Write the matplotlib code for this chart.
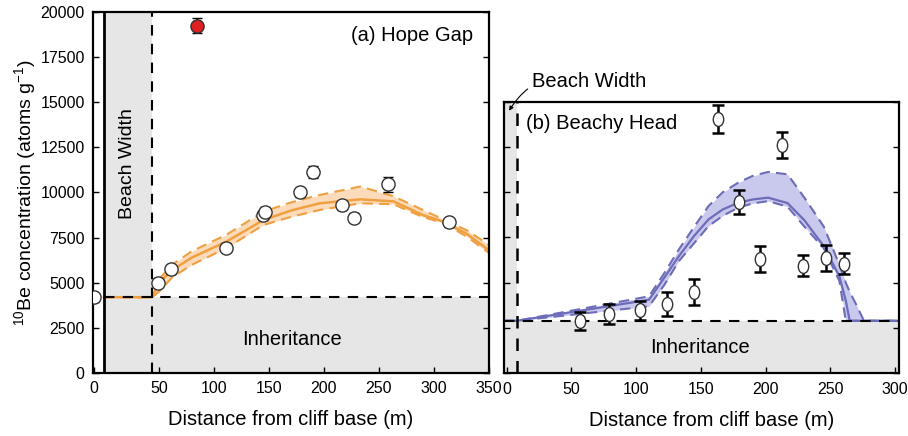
import matplotlib
matplotlib.use('Agg')
import matplotlib.pyplot as plt
from matplotlib.path import Path
from matplotlib.transforms import Affine2D

plt.rcParams['font.family'] = ['Liberation Sans', 'DejaVu Sans']
plt.rcParams['mathtext.fontset'] = 'custom'
plt.rcParams['mathtext.rm'] = 'Liberation Sans'

# (a) Hope Gap
hg_x = [-9, 49.5, 61, 111, 145, 146, 178, 190, 216.5, 227, 258.5, 314]
hg_y = [4200, 5000, 5750, 6950, 8750, 8900, 10000, 11150, 9300, 8600, 10450, 8350]
hg_err = [250, 250, 250, 250, 250, 280, 250, 340, 250, 250, 430, 250]
hg_out_x, hg_out_y, hg_out_err = 85, 19250, 430
hg_beach = 44
hg_inherit = 4200
hg_mx = [0, 44, 50, 62, 80, 111, 145, 170, 196, 233, 263, 290, 309, 330, 350]
hg_mid = [4200, 4200, 5000, 5700, 6400, 7270, 8475, 9000, 9400, 9620, 9510, 8750, 8380, 7700, 6800]
hg_hi = [4200, 4200, 5200, 6000, 6750, 7650, 8940, 9450, 9860, 10330, 9800, 9030, 8500, 7900, 7100]
hg_lo = [4200, 4200, 4500, 5300, 6000, 6910, 8200, 8650, 9030, 9400, 9350, 8640, 8300, 7550, 6650]

# (b) Beachy Head
bh_x = [57, 79, 103, 124, 145, 163, 179.4, 196, 212.5, 228.6, 247, 260.5]
bh_y = [2900, 3290, 3470, 3820, 4490, 14040, 9460, 6320, 12620, 5950, 6370, 6060]
bh_err = [500, 550, 500, 670, 730, 785, 675, 720, 720, 570, 710, 580]
bh_beach = 8
bh_inherit = 2900
bh_mx = [-2, 8, 110, 122, 133, 145, 156, 167, 179, 190, 202, 217, 230, 245, 257, 262, 265, 270, 276, 303]
bh_mid = [2900, 2900, 4060, 5300, 6460, 7600, 8500, 9050, 9420, 9600, 9700, 9400, 8450, 7020, 5360,
          4000, 2900, 2900, 2900, 2900]
bh_hi = [2900, 2900, 4250, 5550, 6830, 8100, 9240, 10000, 10530, 10900, 11120, 10990, 9700, 8100, 6000,
         5000, 4500, 3800, 2900, 2900]
bh_lo = [2900, 2900, 3700, 4900, 6190, 7200, 8130, 8700, 9150, 9380, 9510, 9200, 8100, 6900, 5100,
         2900, 2900, 2900, 2900, 2900]

grey = '#e6e6e6'
orange = '#f0a040'
orange_fill = '#fcd8b4'
blue = '#6c6cb8'
blue_fill = '#c4c4ec'
big = 14.5

fig = plt.figure(figsize=(9.08, 4.36), dpi=100)
ax1 = fig.add_axes([0.1024, 0.1445, 0.4361, 0.828])
ax2 = fig.add_axes([0.555, 0.1438, 0.435, 0.623])

for ax in (ax1, ax2):
    for s in ax.spines.values():
        s.set_linewidth(1.6)
    ax.tick_params(direction='in', length=4, width=1, labelsize=11.5,
                   left=True, right=True, top=False, bottom=True, pad=6)

# ---- panel a
ax1.set_xlim(-10, 350)
ax1.set_ylim(0, 20000)
ax1.fill_between([0, 350], 0, hg_inherit, color=grey, lw=0, zorder=0)
ax1.fill_between([0, hg_beach], 0, 20000, color=grey, lw=0, zorder=0)
ax1.axvline(0, color='black', lw=2, zorder=3)
ax1.plot([hg_beach, hg_beach], [0, 20000], color='black', lw=1.5, ls=(0, (5, 4)), zorder=3)
ax1.plot([0, 350], [hg_inherit, hg_inherit], color='black', lw=1.5, ls=(0, (5, 4)), zorder=3)
ax1.fill_between(hg_mx, hg_lo, hg_hi, color=orange_fill, lw=0, zorder=1, alpha=0.9)
ax1.plot(hg_mx, hg_mid, color=orange, lw=1.8, zorder=2)
ax1.plot(hg_mx, hg_hi, color=orange, lw=1.5, ls=(0, (5, 3)), zorder=2)
ax1.plot(hg_mx, hg_lo, color=orange, lw=1.5, ls=(0, (5, 3)), zorder=2)
ax1.errorbar(hg_x, hg_y, yerr=hg_err, fmt='o', ms=9.5, mfc='white', mec='#333333',
             mew=1, ecolor='black', elinewidth=1.2, capsize=3.5, capthick=1.2, zorder=5)
ax1.errorbar([hg_out_x], [hg_out_y], yerr=[hg_out_err], fmt='o', ms=9.5, mfc='#e02020',
             mec='#333333', mew=1, ecolor='black', elinewidth=1.2, capsize=3.5,
             capthick=1.2, zorder=5)
ax1.set_xticks([-9, 50, 100, 150, 200, 250, 300, 350])
ax1.set_xticklabels(['0', '50', '100', '150', '200', '250', '300', '350'])
ax1.set_yticks(range(0, 20001, 2500))
ax1.text(0.96, 0.934, '(a) Hope Gap', transform=ax1.transAxes, ha='right',
         va='center', fontsize=big)
ax1.text(21, 11630, 'Beach Width', rotation=90, ha='center', va='center', fontsize=14)
ax1.text(171, 1830, 'Inheritance', ha='center', va='center', fontsize=big)
ax1.set_xlabel('Distance from cliff base (m)', fontsize=big, labelpad=10)
ax1.set_ylabel('$^{10}$Be concentration (atoms g$^{-1}$)', fontsize=14, labelpad=1)

# ---- panel b
ax2.set_xlim(-2, 303)
ax2.set_ylim(0, 15000)
ax2.fill_between([-2, 303], 0, bh_inherit, color=grey, lw=0, zorder=0)
ax2.fill_between([-2, bh_beach], 0, 15000, color=grey, lw=0, zorder=0)
ax2.plot([bh_beach, bh_beach], [0, 15000], color='black', lw=1.8, ls=(0, (5, 4)), zorder=3)
ax2.plot([-2, 303], [bh_inherit, bh_inherit], color='black', lw=1.5, ls=(0, (5, 4)), zorder=3)
ax2.fill_between(bh_mx, bh_lo, bh_hi, color=blue_fill, lw=0, zorder=1, alpha=0.9)
ax2.plot(bh_mx, bh_mid, color=blue, lw=1.6, zorder=2)
ax2.plot(bh_mx, bh_hi, color=blue, lw=1.5, ls=(0, (5, 3)), zorder=2)
ax2.plot(bh_mx, bh_lo, color=blue, lw=1.5, ls=(0, (5, 3)), zorder=2)
ellipse = Path.unit_circle().transformed(Affine2D().scale(0.75, 1.0))
ax2.errorbar(bh_x, bh_y, yerr=bh_err, fmt='none', ecolor='black', elinewidth=1.8,
             capsize=4.3, capthick=1.8, zorder=4)
ax2.plot(bh_x, bh_y, ls='none', marker=ellipse, ms=10, mfc='white', mec='#333333',
         mew=1, zorder=5)
ax2.set_xticks(range(0, 301, 50))
ax2.set_yticks(range(0, 15001, 2500))
ax2.set_yticklabels([])
ax2.text(0.057, 0.92, '(b) Beachy Head', transform=ax2.transAxes, ha='left',
         va='center', fontsize=big)
ax2.text(149.5, 1440, 'Inheritance', ha='center', va='center', fontsize=big)
ax2.annotate('Beach Width', xy=(2, 14500), xytext=(0.07, 1.0736),
             textcoords='axes fraction', ha='left', va='center', fontsize=big,
             annotation_clip=False,
             arrowprops=dict(arrowstyle='-|>', mutation_scale=6, lw=0.8,
                             color='black', connectionstyle='arc3,rad=0.4',
                             shrinkA=1, shrinkB=0))
ax2.set_xlabel('Distance from cliff base (m)', fontsize=big, labelpad=10)
ax2.xaxis.label.set_x(0.525)

fig.savefig('out.png', dpi=100)
